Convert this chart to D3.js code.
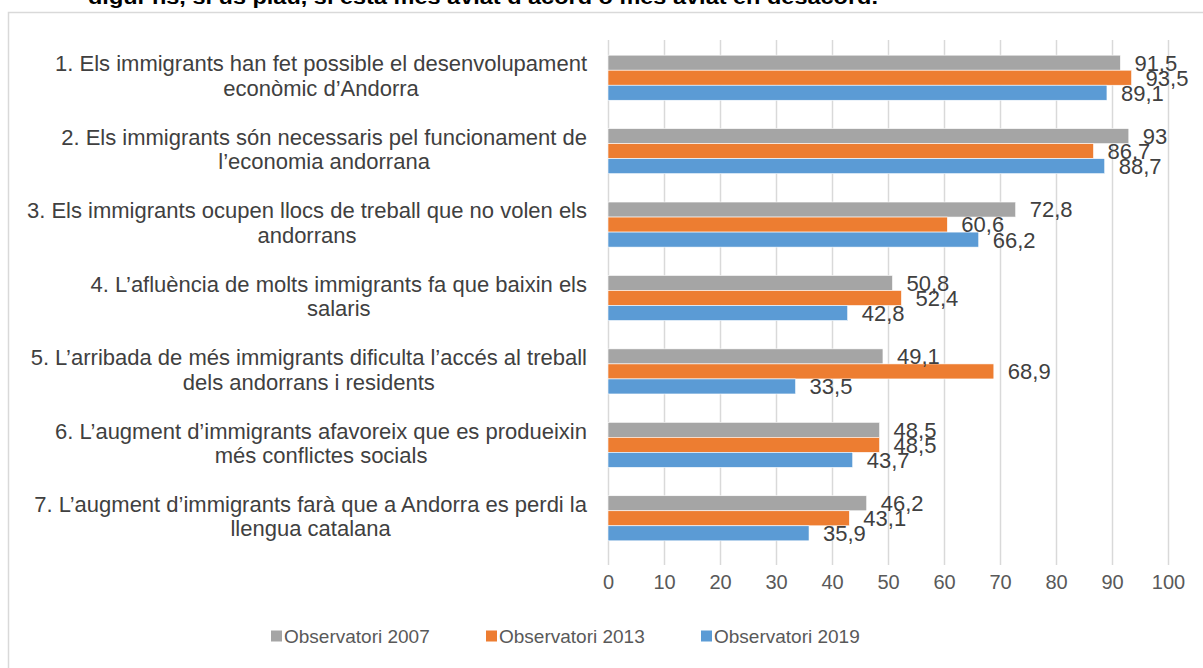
<!DOCTYPE html>
<html>
<head>
<meta charset="utf-8">
<script src="https://cdn.jsdelivr.net/npm/d3@7"></script>
<style>
	body { margin: 0; background: #fff; }
	svg { display: block; font-family: 'Liberation Sans', Arial, sans-serif; }
</style>
</head>
<body>
<div id="chart"></div>
<script>
const categories = [
	['1. Els immigrants han fet possible el desenvolupament', 'econòmic d’Andorra'],
	['2. Els immigrants són necessaris pel funcionament de', 'l’economia andorrana'],
	['3. Els immigrants ocupen llocs de treball que no volen els', 'andorrans'],
	['4. L’afluència de molts immigrants fa que baixin els', 'salaris'],
	['5. L’arribada de més immigrants dificulta l’accés al treball', 'dels andorrans i residents'],
	['6. L’augment d’immigrants afavoreix que es produeixin', 'més conflictes socials'],
	['7. L’augment d’immigrants farà que a Andorra es perdi la', 'llengua catalana']
]
const seriesNames = ['Observatori 2007', 'Observatori 2013', 'Observatori 2019']
const values2007 = [91.5, 93, 72.8, 50.8, 49.1, 48.5, 46.2]
const values2013 = [93.5, 86.7, 60.6, 52.4, 68.9, 48.5, 43.1]
const values2019 = [89.1, 88.7, 66.2, 42.8, 33.5, 43.7, 35.9]
const xTicks = [0, 10, 20, 30, 40, 50, 60, 70, 80, 90, 100]
const title = 'digui-ns, si us plau, si està més aviat d’acord o més aviat en desacord.'

const colors = ['#a5a5a5', '#ed7d31', '#5b9bd5']
const width = 1203
const height = 668
const plot = { left: 608, right: 1168, top: 41, bottom: 555, gridTop: 40, gridBottom: 565 }

const svg = d3.select('#chart')
	.append('svg')
	.attr('width', width)
	.attr('height', height)

// chart frame (runs off the right and bottom of the picture)
svg.append('rect')
	.attr('x', 8.5)
	.attr('y', 12.5)
	.attr('width', width)
	.attr('height', height)
	.attr('fill', 'none')
	.attr('stroke', '#d9d9d9')
	.attr('stroke-width', 1.5)

svg.append('text')
	.attr('x', 88)
	.attr('y', 4)
	.attr('textLength', 790)
	.attr('lengthAdjust', 'spacingAndGlyphs')
	.style('font-size', '20px')
	.style('font-weight', 'bold')
	.style('fill', '#000')
	.text(title)

const x = d3.scaleLinear()
	.domain([0, 100])
	.range([plot.left, plot.right])

const y = d3.scaleBand()
	.domain(d3.range(categories.length))
	.range([plot.top, plot.bottom])
	.paddingInner(0.386)
	.paddingOuter(0.193)

const ySeries = d3.scaleBand()
	.domain(d3.range(seriesNames.length))
	.range([0, y.bandwidth()])

// gridlines + tick labels
const xAxis = g => g
	.attr('transform', `translate(0,${plot.gridBottom})`)
	.call(d3.axisBottom(x).tickValues(xTicks).tickSize(-(plot.gridBottom - plot.gridTop)).tickPadding(10))
	.call(g => g.select('.domain').remove())
	.call(g => g.selectAll('.tick line').attr('stroke', '#d9d9d9').attr('stroke-width', 1.5))
	.call(g => g.selectAll('.tick text')
		.attr('fill', '#595959')
		.style('font-size', '20px')
		.style('font-family', "'Liberation Sans', Arial, sans-serif"))

svg.append('g').call(xAxis)

const series = [values2007, values2013, values2019]
const rows = categories.map((c, i) => series.map((s, j) => ({ cat: i, s: j, v: s[i] })))

const groups = svg.append('g')
	.selectAll('g')
	.data(rows)
	.join('g')
	.attr('transform', (d, i) => `translate(0,${y(i)})`)

groups.selectAll('rect')
	.data(d => d)
	.join('rect')
	.attr('x', x(0))
	.attr('y', d => ySeries(d.s))
	.attr('width', d => x(d.v) - x(0))
	.attr('height', ySeries.bandwidth())
	.attr('fill', d => colors[d.s])
	.attr('stroke', '#fff')
	.attr('stroke-width', 0.6)

groups.selectAll('text')
	.data(d => d)
	.join('text')
	.attr('x', d => x(d.v) + 14)
	.attr('y', d => ySeries(d.s) + ySeries.bandwidth() / 2)
	.attr('dy', '0.36em')
	.style('font-size', '22px')
	.style('fill', '#404040')
	.text(d => String(d.v).replace('.', ','))

// category labels: centred block, right edge near the plot
const labelRight = 587
const labels = svg.append('g')
	.selectAll('g')
	.data(categories)
	.join('g')

labels.each(function (lines, i) {
	const g = d3.select(this)
	const cy = y(i) + y.bandwidth() / 2 - 2
	const texts = g.selectAll('text')
		.data(lines)
		.join('text')
		.attr('y', (d, k) => cy + (k - (lines.length - 1) / 2) * 24.5)
		.attr('dy', '0.36em')
		.attr('text-anchor', 'middle')
		.style('font-size', '22px')
		.style('fill', '#404040')
		.text(d => d)
	const w = d3.max(texts.nodes(), n => n.getComputedTextLength())
	texts.attr('x', labelRight - w / 2)
})

// legend
const legendX = d3.scalePoint()
	.domain(seriesNames)
	.range([271, 701])

const legend = svg.append('g')
	.selectAll('g')
	.data(seriesNames)
	.join('g')
	.attr('transform', d => `translate(${legendX(d)},636)`)

legend.append('rect')
	.attr('x', 0)
	.attr('y', -5.5)
	.attr('width', 11)
	.attr('height', 11)
	.attr('fill', (d, i) => colors[i])

legend.append('text')
	.attr('x', 13)
	.attr('dy', '0.36em')
	.style('font-size', '19px')
	.style('fill', '#595959')
	.text(d => d)
</script>
</body>
</html>
